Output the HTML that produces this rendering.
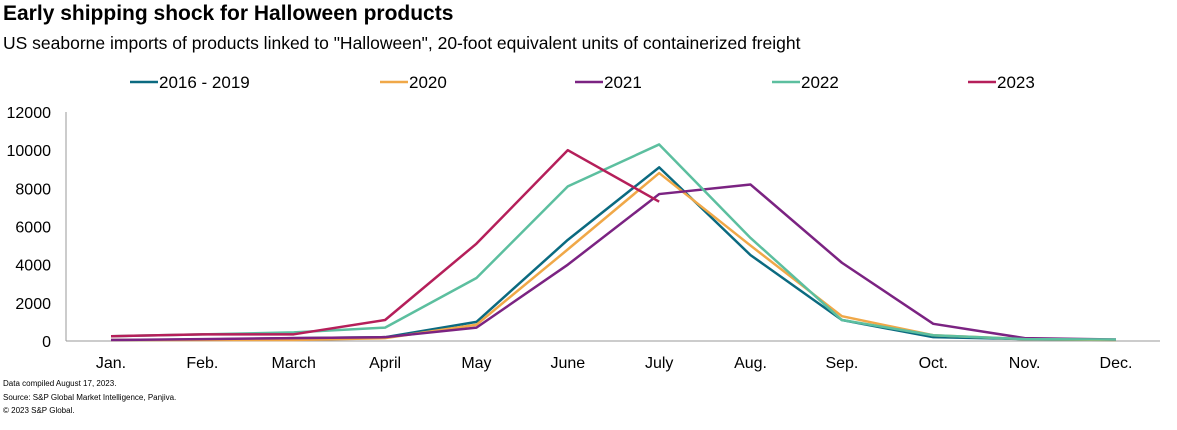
<!DOCTYPE html>
<html><head><meta charset="utf-8"><style>
body{margin:0;background:#fff;font-family:"Liberation Sans",Arial,sans-serif;}
svg text{font-family:"Liberation Sans",Arial,sans-serif;}
</style></head><body>
<svg width="1177" height="425" id="c">
<text x="3" y="20" font-size="21" font-weight="bold" fill="#000">Early shipping shock for Halloween  products</text>
<text x="3" y="49" font-size="17.5" fill="#000">US seaborne imports of products linked to "Halloween", 20-foot equivalent units of containerized freight</text>
<text x="3" y="386" font-size="8" fill="#000">Data compiled August 17, 2023.</text>
<text x="3" y="400" font-size="8" fill="#000">Source: S&amp;P Global Market Intelligence, Panjiva.</text>
<text x="3" y="413" font-size="8" fill="#000">© 2023 S&amp;P Global.</text>
<g id="plot"></g>
</svg>
<script>
const months=["Jan.","Feb.","March","April","May","June","July","Aug.","Sep.","Oct.","Nov.","Dec."];
const yTicks=[0,2000,4000,6000,8000,10000,12000];
const seriesNames=["2016 - 2019","2020","2021","2022","2023"];
const s2016=[50,80,150,200,1000,5300,9100,4500,1100,200,100,50];
const s2020=[50,50,50,150,850,4800,8800,5000,1300,300,100,50];
const s2021=[50,100,150,200,700,4000,7700,8200,4100,900,150,80];
const s2022=[250,350,450,700,3300,8100,10300,5400,1100,300,100,80];
const s2023=[250,350,350,1100,5100,10000,7300];
const colors=["#0b6a80","#f0a848","#7b2382","#5cbf9f","#b51f5a"];
const allSeries=[s2016,s2020,s2021,s2022,s2023];
const NS="http://www.w3.org/2000/svg";
const g=document.getElementById('plot');
const x=i=>111+i*(1116-111)/11;
const y=v=>341-v*(341-112)/12000;
function mk(t,a){const e=document.createElementNS(NS,t);for(const k in a)e.setAttribute(k,a[k]);g.appendChild(e);return e;}
let ax=mk('line',{x1:66,y1:112,x2:66,y2:341,stroke:'#999','stroke-width':1});


let bx=mk('line',{x1:66,y1:341,x2:1160,y2:341,stroke:'#999','stroke-width':1});


yTicks.forEach(v=>{const t=mk('text',{x:51,y:y(v)+6,'font-size':16,'text-anchor':'end',fill:'#000'});t.textContent=v;

});
months.forEach((m,i)=>{const t=mk('text',{x:x(i),y:368,'font-size':16,'text-anchor':'middle',fill:'#000'});t.textContent=m;

});
const lx=[130,380,575,772,968];
seriesNames.forEach((n,k)=>{
const l=mk('line',{x1:lx[k],y1:82,x2:lx[k]+28,y2:82,stroke:colors[k],'stroke-width':2.5});


const t=mk('text',{x:lx[k]+29,y:88,'font-size':17,fill:'#000'});t.textContent=n;


});
allSeries.forEach((s,k)=>{
const p=mk('polyline',{points:s.map((v,i)=>x(i)+','+y(v)).join(' '),fill:'none',stroke:colors[k],'stroke-width':2.5,'stroke-linejoin':'round'});


});
</script>
</body></html>
